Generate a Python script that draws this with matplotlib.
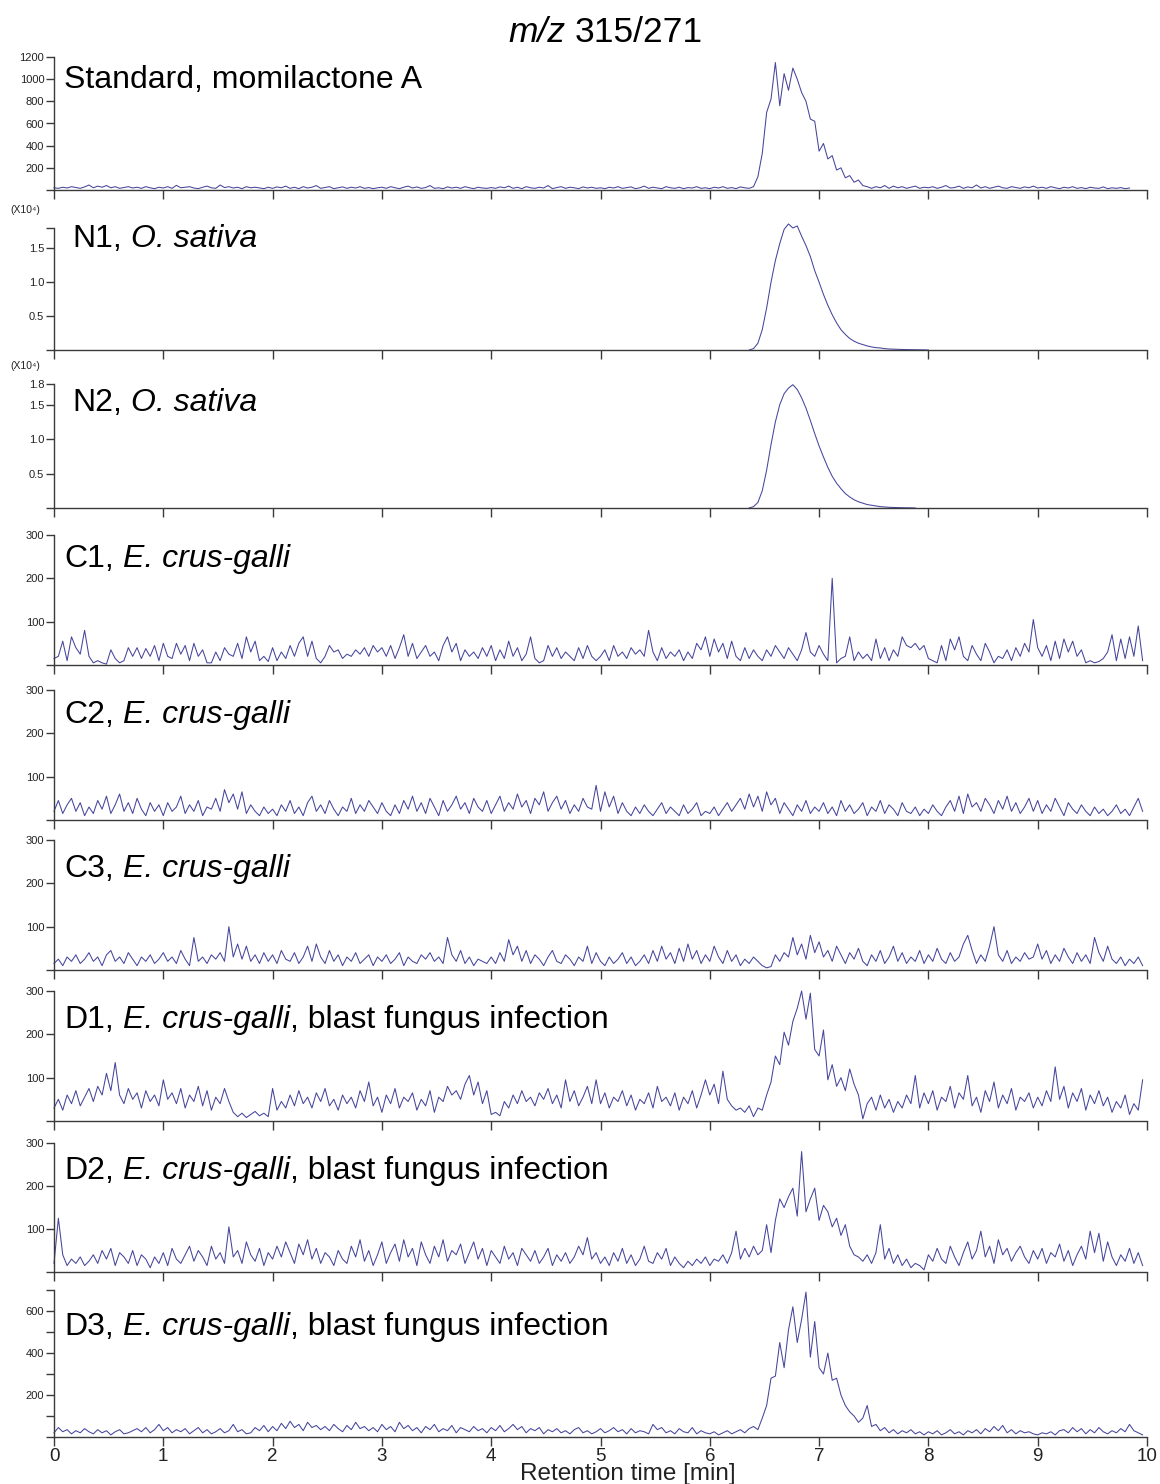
"""
Stacked MRM chromatograms (m/z 315/271) - standard, O. sativa and E. crus-galli samples.
Values read off the published figure on a 0.04 min grid.
"""
import numpy as np
import matplotlib
matplotlib.use("Agg")
import matplotlib.pyplot as plt
from matplotlib.ticker import FixedLocator

plt.rcParams["font.family"] = ["Liberation Sans", "DejaVu Sans"]

W, H = 1160, 1484
STEP = 0.04  # min between samples
time = np.arange(250) * STEP  # 0 .. 9.96 min

# ---- traces (one row of 25 values = one minute) ----
standard = [
    20, 15, 25, 18, 30, 22, 15, 28, 45, 20, 35, 25, 40, 20, 30, 15, 22, 30, 18, 25, 15, 30, 20, 12, 25,
    18, 30, 15, 42, 20, 25, 30, 18, 12, 25, 35, 20, 15, 45, 22, 30, 18, 25, 12, 30, 20, 25, 18, 12, 25,
    15, 28, 20, 35, 15, 25, 12, 30, 18, 25, 40, 15, 22, 30, 12, 20, 28, 15, 25, 18, 30, 15, 22, 12, 20,
    25, 15, 30, 20, 12, 25, 35, 18, 28, 15, 22, 40, 15, 20, 12, 28, 18, 25, 15, 30, 20, 12, 25, 18, 15,
    22, 15, 28, 20, 35, 15, 25, 12, 30, 20, 15, 25, 18, 40, 12, 22, 30, 15, 25, 20, 12, 28, 18, 25, 15,
    20, 12, 25, 18, 30, 15, 22, 28, 12, 20, 35, 15, 25, 18, 12, 30, 20, 15, 25, 12, 22, 18, 30, 15, 20,
    12, 25, 18, 30, 15, 22, 12, 28, 20, 15, 30, 120, 330, 700, 820, 1150, 760, 1050, 900, 1100, 1000, 880, 800, 640, 620,
    350, 420, 280, 310, 180, 200, 110, 130, 70, 90, 40, 30, 15, 30, 20, 40, 15, 35, 20, 30, 15, 25, 35, 15, 25,
    20, 30, 15, 25, 40, 18, 22, 35, 15, 28, 20, 45, 18, 30, 15, 25, 35, 20, 15, 30, 22, 15, 28, 20, 35,
    18, 25, 15, 30, 20, 12, 25, 18, 30, 15, 22, 12, 25, 18, 15, 28, 12, 20, 15, 22, 12, 18,
]

n1_start = 6.36
n1 = [  # x10^4
    0, 0.02, 0.10, 0.30, 0.62, 1.00, 1.32, 1.57, 1.78, 1.86, 1.80, 1.83, 1.68, 1.54, 1.38, 1.17,
    1.00, 0.82, 0.66, 0.52, 0.40, 0.30, 0.23, 0.17, 0.13, 0.10, 0.08, 0.06, 0.045, 0.035, 0.03,
    0.02, 0.015, 0.012, 0.01, 0.008, 0.006, 0.005, 0.004, 0.003, 0.002, 0,
]

n2_start = 6.36
n2 = [  # x10^4
    0, 0.02, 0.08, 0.25, 0.55, 0.92, 1.25, 1.50, 1.66, 1.74, 1.79, 1.72, 1.60, 1.45, 1.27, 1.08,
    0.90, 0.74, 0.59, 0.46, 0.36, 0.28, 0.21, 0.16, 0.12, 0.09, 0.07, 0.05, 0.04, 0.03, 0.02,
    0.015, 0.01, 0.008, 0.006, 0.004, 0.003, 0.002, 0,
]

c1 = [
    15, 20, 55, 10, 65, 40, 25, 80, 20, 5, 10, 5, 2, 35, 15, 5, 10, 40, 20, 40, 15, 38, 20, 45, 10,
    50, 20, 15, 50, 25, 45, 10, 50, 20, 35, 5, 5, 30, 10, 40, 25, 20, 50, 15, 65, 30, 55, 10, 20, 8,
    40, 10, 30, 15, 45, 20, 50, 65, 20, 55, 15, 5, 20, 45, 30, 35, 15, 25, 20, 35, 25, 40, 20, 45, 30,
    40, 20, 45, 15, 40, 70, 20, 50, 15, 30, 45, 20, 30, 10, 45, 65, 30, 50, 10, 35, 20, 30, 15, 40, 20,
    45, 10, 35, 15, 55, 20, 40, 10, 25, 65, 15, 5, 10, 45, 20, 40, 15, 30, 20, 10, 40, 15, 45, 20, 10,
    20, 35, 10, 45, 20, 30, 15, 40, 25, 35, 20, 80, 30, 10, 40, 15, 30, 20, 35, 10, 30, 15, 50, 35, 65,
    20, 60, 30, 50, 15, 55, 20, 10, 40, 15, 35, 20, 10, 35, 20, 45, 30, 15, 40, 25, 10, 35, 75, 30, 20,
    45, 25, 10, 200, 5, 15, 20, 65, 10, 30, 15, 25, 10, 60, 15, 40, 10, 35, 20, 65, 45, 40, 50, 35, 45,
    15, 10, 5, 45, 10, 60, 35, 65, 20, 10, 45, 25, 10, 50, 30, 5, 20, 15, 35, 10, 40, 20, 50, 30, 105,
    40, 20, 45, 10, 55, 15, 60, 30, 55, 20, 35, 5, 10, 5, 8, 15, 30, 70, 10, 60, 15, 65, 20, 90, 10,
]

c2 = [
    20, 45, 15, 35, 50, 20, 40, 10, 30, 15, 45, 25, 55, 15, 35, 60, 20, 40, 15, 50, 25, 10, 40, 20, 35,
    10, 40, 20, 30, 55, 15, 35, 20, 45, 10, 30, 25, 50, 20, 70, 40, 60, 25, 65, 15, 35, 20, 10, 30, 15,
    25, 10, 35, 20, 45, 15, 30, 10, 40, 55, 20, 35, 15, 45, 25, 10, 30, 20, 50, 15, 35, 20, 45, 30, 15,
    40, 20, 10, 35, 15, 45, 25, 55, 20, 40, 15, 50, 30, 10, 45, 20, 35, 55, 25, 40, 15, 50, 30, 20, 45,
    15, 35, 55, 20, 40, 25, 60, 30, 45, 15, 50, 35, 65, 20, 40, 55, 25, 45, 15, 35, 20, 50, 30, 25, 80,
    20, 65, 30, 55, 15, 40, 20, 10, 30, 15, 35, 20, 10, 25, 40, 15, 30, 20, 10, 35, 15, 25, 40, 10, 20,
    15, 30, 10, 25, 40, 20, 35, 50, 25, 60, 30, 55, 20, 65, 35, 50, 15, 40, 25, 10, 35, 20, 45, 15, 30,
    20, 40, 15, 30, 10, 45, 20, 35, 15, 25, 40, 10, 30, 20, 45, 15, 35, 25, 10, 40, 20, 15, 30, 10, 25,
    15, 35, 20, 10, 30, 45, 20, 55, 15, 60, 30, 40, 20, 50, 35, 15, 45, 25, 55, 20, 40, 15, 30, 50, 20,
    45, 15, 35, 20, 50, 30, 10, 40, 25, 15, 35, 20, 10, 30, 15, 25, 10, 20, 35, 15, 25, 10, 30, 50, 20,
]

c3 = [
    15, 25, 10, 30, 20, 35, 15, 25, 40, 20, 30, 10, 35, 45, 20, 30, 15, 40, 25, 10, 30, 20, 35, 15, 25,
    40, 20, 30, 15, 45, 25, 10, 75, 20, 30, 15, 35, 25, 40, 20, 100, 30, 60, 25, 55, 20, 35, 15, 40, 20,
    35, 15, 45, 25, 20, 40, 15, 30, 55, 20, 60, 30, 15, 45, 20, 35, 10, 30, 20, 40, 15, 25, 35, 10, 30,
    20, 35, 15, 25, 40, 10, 30, 20, 15, 35, 25, 40, 20, 30, 15, 75, 35, 20, 45, 15, 30, 10, 25, 20, 15,
    30, 15, 40, 20, 70, 35, 55, 20, 45, 15, 35, 25, 10, 30, 45, 20, 15, 35, 25, 10, 30, 20, 55, 15, 40,
    20, 10, 30, 15, 25, 40, 15, 30, 10, 20, 35, 15, 45, 20, 55, 25, 40, 15, 50, 20, 60, 25, 45, 15, 35,
    20, 55, 30, 15, 45, 20, 35, 10, 25, 15, 30, 20, 10, 5, 8, 35, 20, 40, 30, 75, 35, 60, 25, 80, 40,
    65, 30, 45, 20, 55, 35, 15, 40, 25, 50, 20, 10, 35, 20, 45, 15, 30, 55, 20, 40, 15, 30, 20, 45, 15,
    35, 20, 50, 25, 15, 40, 20, 30, 60, 80, 45, 15, 35, 20, 55, 100, 35, 20, 45, 15, 30, 20, 40, 25, 30,
    60, 25, 45, 15, 35, 20, 50, 30, 15, 40, 20, 35, 15, 75, 40, 20, 55, 25, 15, 30, 10, 25, 15, 30, 10,
]

d1 = [
    30, 50, 25, 60, 40, 70, 35, 55, 75, 45, 80, 60, 110, 70, 135, 60, 40, 75, 50, 65, 30, 70, 45, 60, 35,
    95, 50, 65, 40, 75, 30, 60, 45, 80, 35, 70, 25, 55, 40, 75, 45, 20, 10, 18, 8, 15, 22, 12, 18, 10,
    75, 25, 45, 30, 60, 35, 70, 40, 55, 30, 65, 45, 75, 35, 50, 25, 60, 40, 55, 30, 70, 45, 90, 35, 55,
    20, 60, 40, 75, 30, 55, 45, 65, 25, 50, 35, 70, 20, 55, 45, 80, 60, 70, 50, 85, 105, 60, 90, 40, 70,
    15, 20, 12, 45, 30, 60, 40, 70, 45, 55, 35, 65, 50, 75, 40, 60, 30, 95, 45, 70, 35, 55, 80, 40, 95,
    40, 65, 30, 55, 45, 70, 35, 60, 25, 50, 40, 65, 30, 80, 45, 55, 35, 65, 25, 55, 40, 70, 30, 60, 95,
    60, 85, 40, 115, 50, 35, 25, 30, 20, 35, 10, 30, 25, 60, 90, 150, 130, 205, 175, 230, 260, 300, 235, 295, 165,
    150, 210, 95, 130, 80, 100, 70, 120, 85, 60, 5, 40, 55, 25, 60, 30, 50, 20, 45, 30, 60, 40, 105, 30, 65,
    40, 70, 25, 55, 45, 80, 30, 65, 50, 105, 35, 55, 20, 70, 45, 90, 30, 60, 40, 75, 25, 55, 45, 65, 30,
    55, 35, 70, 45, 125, 50, 80, 30, 65, 45, 75, 25, 60, 40, 70, 35, 55, 20, 45, 30, 60, 15, 40, 25, 95,
]

d2 = [
    20, 125, 40, 15, 30, 20, 35, 15, 25, 40, 20, 50, 30, 55, 15, 45, 35, 20, 50, 15, 40, 30, 10, 35, 20,
    45, 15, 55, 30, 20, 40, 60, 25, 50, 35, 15, 60, 30, 45, 20, 105, 35, 50, 20, 70, 40, 25, 55, 15, 45,
    30, 60, 35, 70, 45, 20, 65, 40, 75, 30, 55, 20, 45, 35, 15, 50, 30, 20, 60, 35, 75, 25, 50, 15, 40,
    70, 20, 45, 65, 25, 75, 35, 55, 15, 70, 40, 20, 60, 35, 75, 25, 50, 40, 65, 20, 45, 70, 30, 55, 15,
    50, 35, 20, 60, 30, 45, 15, 55, 40, 25, 50, 20, 35, 55, 15, 40, 25, 45, 20, 35, 60, 40, 80, 30, 45,
    20, 35, 15, 45, 25, 55, 20, 40, 15, 30, 60, 25, 20, 45, 30, 55, 15, 35, 20, 10, 25, 15, 30, 20, 35,
    15, 30, 25, 40, 20, 45, 95, 30, 55, 35, 60, 40, 50, 110, 45, 120, 170, 150, 175, 195, 130, 280, 140, 170, 195,
    120, 155, 140, 105, 125, 85, 110, 60, 40, 35, 25, 40, 20, 45, 110, 30, 55, 20, 40, 15, 30, 10, 20, 15, 5,
    40, 25, 55, 30, 20, 60, 35, 15, 45, 70, 30, 50, 95, 35, 60, 20, 75, 40, 55, 25, 45, 60, 35, 20, 50,
    30, 55, 20, 45, 35, 65, 25, 50, 15, 40, 60, 30, 95, 45, 90, 25, 70, 35, 15, 40, 25, 55, 20, 45, 15,
]

d3 = [
    20, 45, 25, 35, 15, 30, 20, 40, 25, 15, 35, 20, 30, 10, 25, 35, 15, 20, 30, 40, 25, 45, 20, 35, 60,
    30, 45, 20, 35, 25, 40, 15, 30, 45, 20, 35, 15, 25, 40, 20, 30, 60, 25, 35, 15, 20, 45, 30, 55, 25,
    50, 30, 65, 40, 75, 45, 60, 30, 70, 45, 55, 35, 50, 30, 60, 40, 25, 55, 35, 70, 40, 50, 30, 45, 25,
    60, 35, 50, 25, 70, 40, 55, 30, 45, 20, 50, 35, 60, 25, 40, 30, 55, 20, 45, 35, 25, 50, 30, 40, 20,
    45, 30, 55, 25, 40, 60, 35, 50, 20, 40, 30, 45, 15, 35, 25, 40, 20, 30, 15, 35, 45, 20, 30, 15, 25,
    40, 20, 30, 45, 25, 35, 15, 40, 20, 30, 25, 15, 60, 35, 45, 20, 30, 15, 40, 25, 20, 45, 15, 30, 20,
    15, 25, 10, 20, 30, 15, 25, 35, 20, 40, 50, 35, 90, 150, 280, 290, 450, 330, 510, 620, 450, 560, 690, 380, 550,
    330, 300, 400, 270, 280, 200, 150, 120, 100, 70, 90, 150, 50, 60, 30, 45, 20, 35, 15, 30, 20, 35, 15, 25, 10,
    25, 15, 30, 10, 20, 35, 15, 25, 10, 30, 20, 35, 15, 40, 25, 50, 30, 55, 20, 35, 15, 30, 20, 25, 15,
    10, 20, 15, 25, 10, 30, 35, 20, 45, 25, 40, 15, 35, 20, 45, 25, 15, 30, 20, 40, 25, 60, 30, 20, 10,
]

x_ticks = list(range(0, 11))

# ---- panel layout in pixels: (y of top tick, y of baseline) ----
panels = [
    dict(x0=0, y=standard, top=57, base=190, ymax=1200,
         ticks=[0, 200, 400, 600, 800, 1000, 1200],
         labels=["", "200", "400", "600", "800", "1000", "1200"],
         text=[("Standard, momilactone A", "normal")], tx=64, ty=88),
    dict(x0=n1_start, y=n1, top=228, base=350, ymax=1.8,
         ticks=[0, 0.5, 1.0, 1.5, 1.8], labels=["", "0.5", "1.0", "1.5", ""],
         text=[("N1,", "normal"), ("O. sativa", "italic")], tx=72, ty=247, scale=True),
    dict(x0=n2_start, y=n2, top=384, base=508, ymax=1.8,
         ticks=[0, 0.5, 1.0, 1.5, 1.8], labels=["", "0.5", "1.0", "1.5", "1.8"],
         text=[("N2,", "normal"), ("O. sativa", "italic")], tx=72, ty=411, scale=True),
    dict(x0=0, y=c1, top=535, base=665, ymax=300,
         ticks=[0, 100, 200, 300], labels=["", "100", "200", "300"],
         text=[("C1,", "normal"), ("E. crus-galli", "italic")], tx=64, ty=567),
    dict(x0=0, y=c2, top=690, base=820, ymax=300,
         ticks=[0, 100, 200, 300], labels=["", "100", "200", "300"],
         text=[("C2,", "normal"), ("E. crus-galli", "italic")], tx=64, ty=723),
    dict(x0=0, y=c3, top=840, base=970, ymax=300,
         ticks=[0, 100, 200, 300], labels=["", "100", "200", "300"],
         text=[("C3,", "normal"), ("E. crus-galli", "italic")], tx=64, ty=877),
    dict(x0=0, y=d1, top=991, base=1121, ymax=300,
         ticks=[0, 100, 200, 300], labels=["", "100", "200", "300"],
         text=[("D1,", "normal"), ("E. crus-galli", "italic"), (", blast fungus infection", "glue")],
         tx=64, ty=1028),
    dict(x0=0, y=d2, top=1143, base=1272, ymax=300,
         ticks=[0, 100, 200, 300], labels=["", "100", "200", "300"],
         text=[("D2,", "normal"), ("E. crus-galli", "italic"), (", blast fungus infection", "glue")],
         tx=64, ty=1179),
    dict(x0=0, y=d3, top=1290, base=1437, ymax=700,
         ticks=[0, 100, 200, 300, 400, 500, 600, 700],
         labels=["", "", "200", "", "400", "", "600", ""],
         text=[("D3,", "normal"), ("E. crus-galli", "italic"), (", blast fungus infection", "glue")],
         tx=64, ty=1335),
]

LINE = "#45459c"
AXIS = "#3a3a3a"
X_LEFT, X_RIGHT = 54, 1147

fig = plt.figure(figsize=(W / 100, H / 100), dpi=100)
renderer = fig.canvas.get_renderer()


def rich_text(x_px, y_px, parts, size):
    """Write mixed upright/italic pieces one after another on a common baseline."""
    space = 0.278 * size * 100 / 72
    x = x_px
    for i, (s, style) in enumerate(parts):
        if i > 0 and style != "glue":
            x += space
        t = fig.text(x / W, 1 - y_px / H, s, fontsize=size,
                     style="italic" if style == "italic" else "normal",
                     ha="left", va="baseline", color="black")
        x += t.get_window_extent(renderer).width


for i, p in enumerate(panels):
    ax = fig.add_axes([X_LEFT / W, 1 - p["base"] / H,
                       (X_RIGHT - X_LEFT) / W, (p["base"] - p["top"]) / H])
    xs = p["x0"] + STEP * np.arange(len(p["y"]))
    ax.plot(xs, p["y"], color=LINE, lw=0.75, clip_on=False)
    ax.set_xlim(0, 10)
    ax.set_ylim(0, p["ymax"])
    ax.patch.set_alpha(0)
    for side in ("top", "right"):
        ax.spines[side].set_visible(False)
    for side in ("left", "bottom"):
        ax.spines[side].set_color(AXIS)
        ax.spines[side].set_linewidth(1.0)
    ax.yaxis.set_major_locator(FixedLocator(p["ticks"]))
    ax.set_yticklabels(p["labels"])
    ax.xaxis.set_major_locator(FixedLocator(x_ticks))
    ax.tick_params(axis="y", direction="out", length=6, width=1, color=AXIS,
                   labelsize=8, labelcolor="#222222", pad=1)
    ax.tick_params(axis="x", direction="out", length=6.5, width=1, color=AXIS,
                   labelsize=13.5, labelcolor="#222222", pad=1.5)
    if i < len(panels) - 1:
        ax.set_xticklabels([])
    else:
        ax.set_xticklabels([str(v) for v in x_ticks])
    if p.get("scale"):
        fig.text(25 / W, 1 - (p["top"] - 18) / H, "(X10⁴)", fontsize=7.5,
                 ha="center", va="center", color="#222222")
    rich_text(p["tx"], p["ty"], p["text"], 23)

# title and axis label
rich_text(508, 42, [("m/z", "italic"), ("315/271", "normal")], 25.5)
fig.text(628 / W, 1 - 1474 / H, "Retention time [min]", fontsize=17.5,
         ha="center", va="center", color="#222222")

fig.savefig("out.png", dpi=100)
